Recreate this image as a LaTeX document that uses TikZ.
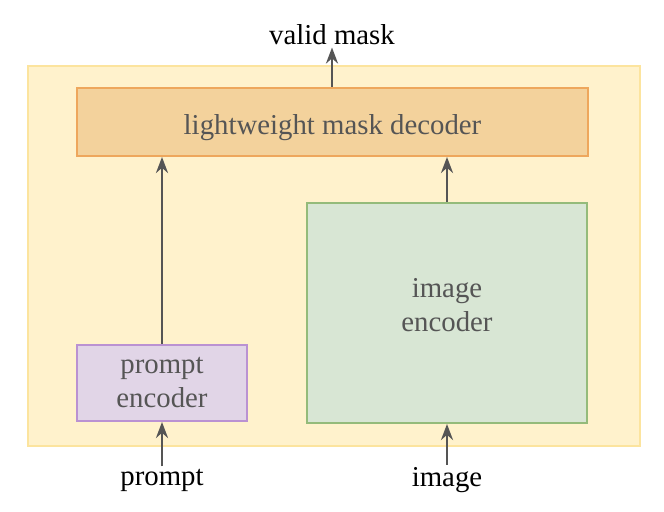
\documentclass[tikz,border=0pt]{standalone}
\usepackage{fontspec}
\setmainfont{Liberation Serif}
\usetikzlibrary{arrows.meta}

\definecolor{framefill}{HTML}{FFF2CC}
\definecolor{framedraw}{HTML}{FCE49E}
\definecolor{decfill}{HTML}{F3D29C}
\definecolor{decdraw}{HTML}{EEA75C}
\definecolor{imgfill}{HTML}{D8E6D4}
\definecolor{imgdraw}{HTML}{94BB7A}
\definecolor{prmfill}{HTML}{E1D5E7}
\definecolor{prmdraw}{HTML}{BA92D2}
\definecolor{arrowgray}{HTML}{555555}
\definecolor{boxtext}{HTML}{555555}

\tikzset{
    blocktext/.style={align=center,text=boxtext,font=\fontsize{14.4}{17}\selectfont},
    block/.style={draw,line width=1pt,inner sep=0,blocktext},
    iolabel/.style={inner sep=1pt,font=\fontsize{14.4}{17}\selectfont},
    flow/.style={draw=arrowgray,line width=1.4pt,-{Stealth[length=8pt,width=6pt]}}
}

\begin{document}
\begin{tikzpicture}[x=0.5pt,y=-0.5pt]
    \useasboundingbox (0,0) rectangle (664,512);
    % outer frame
    \node[draw=framedraw,fill=framefill,line width=1pt,minimum width=306pt,minimum height=190pt,inner sep=0]
        (frame) at (334,256) {};
    \node[block,draw=decdraw,fill=decfill,minimum width=255.5pt,minimum height=34pt,
        label={[blocktext,yshift=-3pt]center:lightweight mask decoder}]
        (dec) at (332.5,122) {};
    \node[block,draw=imgdraw,fill=imgfill,minimum width=140pt,minimum height=110pt,
        label={[blocktext,yshift=4pt]center:image\\encoder}]
        (imgenc) at (447,313) {};
    \node[block,draw=prmdraw,fill=prmfill,minimum width=85pt,minimum height=38pt]
        (prmenc) at (162,383) {prompt\\encoder};
    % inputs and output
    \node[iolabel] (mask) at (332,35) {valid mask};
    \node[iolabel] (prompt) at (162,480) {prompt};
    \node[iolabel] (image) at (447,480) {image};
    \draw[flow] (dec.north -| mask) -- (mask);
    \draw[flow] (prmenc) -- (prmenc |- dec.south);
    \draw[flow] (imgenc) -- (imgenc |- dec.south);
    \draw[flow] (prompt) -- (prmenc);
    \draw[flow] (image) -- (imgenc);
\end{tikzpicture}
\end{document}
